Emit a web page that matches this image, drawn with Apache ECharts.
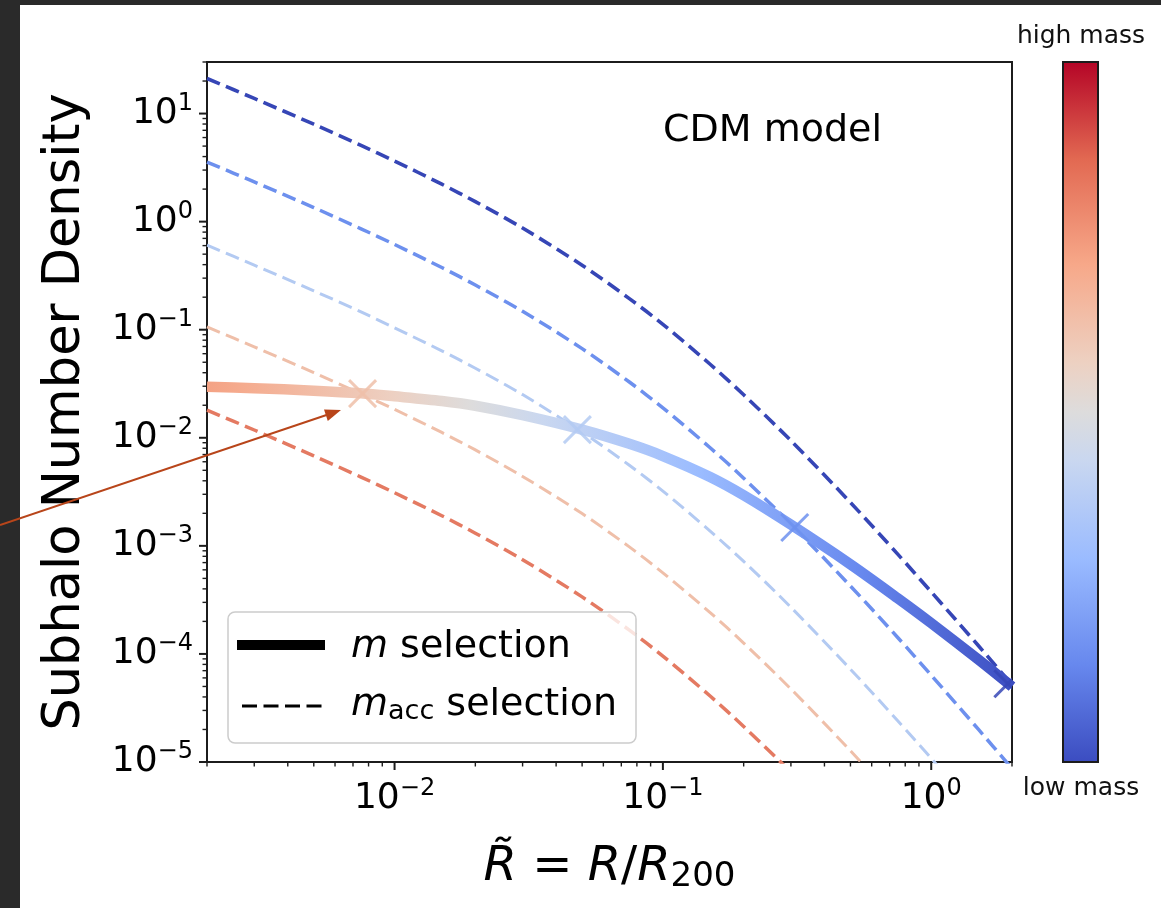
<!DOCTYPE html>
<html>
<head>
<meta charset="utf-8">
<script src="https://cdn.jsdelivr.net/npm/echarts@6/dist/echarts.min.js"></script>
<style>
html, body { margin: 0; padding: 0; background: #ffffff; }
#chart { width: 1161px; height: 908px; }
</style>
</head>
<body>
<div id="chart"></div>
<script>
// Radial sample points R/R200
const radius = [0.002, 0.003, 0.005, 0.0075, 0.01, 0.015, 0.02, 0.03, 0.05, 0.075,
                0.1, 0.15, 0.2, 0.3, 0.5, 0.75, 1, 1.5, 2];

// Subhalo number density, selection on present-day mass m
const mSelection = [0.0296, 0.0288, 0.0273, 0.0258, 0.0242, 0.0219, 0.0198, 0.0162, 0.0119, 0.00879,
                    0.00678, 0.00434, 0.00294, 0.00157, 6.75e-4, 3.28e-4, 1.93e-4, 8.85e-5, 4.98e-5];

// Subhalo number density, selection on accretion mass m_acc (lowest to highest mass bin)
const maccBin1 = [21.1, 13.8, 7.97, 5.07, 3.64, 2.22, 1.53, 0.873, 0.395, 0.194,
                  0.112, 0.0479, 0.025, 0.00941, 0.00252, 8.38e-4, 3.75e-4, 1.19e-4, 5.16e-5];
const maccBin2 = [3.56, 2.33, 1.35, 0.858, 0.615, 0.376, 0.259, 0.148, 0.0668, 0.0328,
                  0.0189, 0.00809, 0.00423, 0.00159, 4.25e-4, 1.42e-4, 6.35e-5, 2.0e-5, 8.7e-6];
const maccBin3 = [0.605, 0.396, 0.229, 0.146, 0.104, 0.0638, 0.044, 0.0251, 0.0113, 0.00557,
                  0.00321, 0.00137, 7.18e-4, 2.70e-4, 7.22e-5, 2.41e-5, 1.08e-5, 3.4e-6, 1.48e-6];
const maccBin4 = [0.106, 0.0694, 0.0401, 0.0255, 0.0183, 0.0112, 0.00772, 0.00439, 0.00199, 9.78e-4,
                  5.63e-4, 2.41e-4, 1.26e-4, 4.74e-5, 1.27e-5, 4.22e-6];
const maccBin5 = [0.018, 0.0118, 0.0068, 0.00433, 0.0031, 0.0019, 0.00131, 7.44e-4, 3.37e-4, 1.66e-4,
                  9.54e-5, 4.08e-5, 2.13e-5, 8.03e-6, 2.15e-6];

// Where the m-selected profile crosses each m_acc profile: [R, density, m_acc bin index]
const crossings = [[0.0076, 0.0256, 3], [0.048, 0.0119, 2], [0.31, 0.00148, 1], [1.93, 5.3e-5, 0]];

// Axis ranges and labelled decades
const xRange = [0.002, 2];
const yRange = [1e-5, 30];
const xDecades = [0.01, 0.1, 1];
const yDecades = [1e-5, 1e-4, 1e-3, 1e-2, 1e-1, 1, 10];

// coolwarm-style colours for the m_acc bins (low mass -> higher mass)
const binColors = ['#3646b6', '#6d90ee', '#b3caf2', '#efbfa9', '#e47a62'];
const binWidths = [3.6, 3.5, 3, 3, 3.5];

const FONT = 'DejaVu Sans';
const pairs = vals => vals.map((v, i) => [radius[i], v]);

function decadeLabel(v) {
  const lg = Math.log10(v);
  const e = Math.round(lg);
  if (Math.abs(lg - e) > 1e-6) return '';
  return '{b|10}{s|' + (e < 0 ? '\u2212' : '') + Math.abs(e) + '}';
}
const tickRich = {
  b: { fontFamily: FONT, fontSize: 36, color: '#000' },
  s: { fontFamily: FONT, fontSize: 24, color: '#000', padding: [0, 0, 20, 0] }
};

// Log tick positions (1..9 x 10^k) for drawing major and minor tick marks
function logTicks(lo, hi) {
  const out = [];
  for (let k = Math.floor(Math.log10(lo)); k <= Math.ceil(Math.log10(hi)); k++) {
    for (let m = 1; m <= 9; m++) {
      const v = parseFloat((m * Math.pow(10, k)).toPrecision(6));
      if (v >= lo * 0.9999 && v <= hi * 1.0001) out.push([v, m === 1 ? 1 : 0]);
    }
  }
  return out;
}
const xTicks = logTicks(xRange[0], xRange[1]);
const yTicks = logTicks(yRange[0], yRange[1]);

const maccSeries = [maccBin1, maccBin2, maccBin3, maccBin4, maccBin5].map((vals, i) => ({
  type: 'line',
  name: 'macc' + (i + 1),
  data: pairs(vals),
  showSymbol: false,
  symbol: 'none',
  smooth: 0.3,
  clip: true,
  z: 2,
  lineStyle: { color: binColors[i], width: binWidths[i], type: [14, 6.5] }
}));

const solidGradient = new echarts.graphic.LinearGradient(0, 0, 1, 0, [
  { offset: 0.0, color: '#f4a183' },
  { offset: 0.05, color: '#f5ab8e' },
  { offset: 0.235, color: '#edd0c2' },
  { offset: 0.33, color: '#dddcdc' },
  { offset: 0.42, color: '#c9d7f0' },
  { offset: 0.61, color: '#9bbcff' },
  { offset: 0.81, color: '#6788ee' },
  { offset: 1.0, color: '#3b4cc0' }
]);

const option = {
  animation: false,
  backgroundColor: '#ffffff',
  title: {
    text: 'CDM model',
    left: 663, top: 112, padding: 0,
    textStyle: { fontFamily: FONT, fontSize: 38, fontWeight: 'normal', color: '#000' }
  },
  grid: {
    left: 207, top: 62, width: 805, height: 700,
    show: true, borderColor: '#1c1c1c', borderWidth: 2, backgroundColor: '#ffffff',
    containLabel: false
  },
  xAxis: {
    type: 'log', logBase: 10, min: xRange[0], max: xRange[1],
    axisLine: { show: false }, axisTick: { show: false }, splitLine: { show: false },
    axisLabel: {
      margin: 15, formatter: decadeLabel, rich: tickRich,
      customValues: xDecades
    },
    name: '{i|R\u0303} = {i|R}/{i|R}{sub|200}',
    nameLocation: 'middle', nameGap: 80,
    nameTextStyle: {
      fontFamily: FONT, fontSize: 48, color: '#000',
      rich: {
        i: { fontFamily: FONT, fontSize: 48, fontStyle: 'italic', color: '#000' },
        sub: { fontFamily: FONT, fontSize: 34, color: '#000', padding: [18, 0, 0, 0] }
      }
    }
  },
  yAxis: {
    type: 'log', logBase: 10, min: yRange[0], max: yRange[1],
    axisLine: { show: false }, axisTick: { show: false }, splitLine: { show: false },
    axisLabel: {
      margin: 14, formatter: decadeLabel, rich: tickRich,
      customValues: yDecades
    },
    name: 'Subhalo Number Density',
    nameLocation: 'middle', nameGap: 116,
    nameTextStyle: { fontFamily: FONT, fontSize: 51, color: '#000' }
  },
  series: [
    ...maccSeries,
    {
      type: 'line', name: 'm selection',
      data: pairs(mSelection),
      showSymbol: false, symbol: 'none', smooth: 0.3, clip: true, z: 3,
      lineStyle: { color: solidGradient, width: 10.5, cap: 'butt' }
    },
    {
      type: 'custom', name: 'crossings', coordinateSystem: 'cartesian2d', clip: true, z: 4,
      data: crossings, encode: { x: 0, y: 1 },
      renderItem(params, api) {
        const p = api.coord([api.value(0), api.value(1)]);
        const r = 13.5;
        const col = binColors[api.value(2)];
        const st = { stroke: col, lineWidth: 3, opacity: 0.85 };
        return {
          type: 'group', children: [
            { type: 'line', shape: { x1: p[0] - r, y1: p[1] - r, x2: p[0] + r, y2: p[1] + r }, style: st },
            { type: 'line', shape: { x1: p[0] - r, y1: p[1] + r, x2: p[0] + r, y2: p[1] - r }, style: st }
          ]
        };
      }
    },
    {
      type: 'custom', name: 'xticks', coordinateSystem: 'cartesian2d', clip: false, z: 5, silent: true,
      data: xTicks.map(t => [t[0], yRange[0], t[1]]), encode: { x: 0, y: 1 },
      renderItem(params, api) {
        const p = api.coord([api.value(0), yRange[0]]);
        const major = api.value(2) === 1;
        return { type: 'line', shape: { x1: p[0], y1: p[1], x2: p[0], y2: p[1] + (major ? 8 : 4.5) },
                 style: { stroke: '#1c1c1c', lineWidth: major ? 2 : 1.4 } };
      }
    },
    {
      type: 'custom', name: 'yticks', coordinateSystem: 'cartesian2d', clip: false, z: 5, silent: true,
      data: yTicks.map(t => [xRange[0], t[0], t[1]]), encode: { x: 0, y: 1 },
      renderItem(params, api) {
        const p = api.coord([xRange[0], api.value(1)]);
        const major = api.value(2) === 1;
        return { type: 'line', shape: { x1: p[0] - (major ? 8 : 4.5), y1: p[1], x2: p[0], y2: p[1] },
                 style: { stroke: '#1c1c1c', lineWidth: major ? 2 : 1.4 } };
      }
    }
  ],
  graphic: [
    // dark slide frame
    { type: 'rect', z: 50, shape: { x: 0, y: 0, width: 20, height: 908 }, style: { fill: '#2a2a2a' } },
    { type: 'rect', z: 50, shape: { x: 0, y: 0, width: 1161, height: 5 }, style: { fill: '#2a2a2a' } },
    // annotation arrow
    { type: 'line', z: 60, shape: { x1: 0, y1: 525, x2: 328, y2: 414.5 }, style: { stroke: '#b8451a', lineWidth: 2 } },
    { type: 'polygon', z: 60, shape: { points: [[341, 410], [327.8, 421], [324, 409.5]] }, style: { fill: '#b8451a' } },
    // legend
    { type: 'rect', z: 100, shape: { x: 228, y: 612, width: 408, height: 131, r: 7 },
      style: { fill: 'rgba(255,255,255,0.8)', stroke: '#cccccc', lineWidth: 1.5 } },
    { type: 'line', z: 101, shape: { x1: 237, y1: 645, x2: 325, y2: 645 },
      style: { stroke: '#000', lineWidth: 10 } },
    { type: 'line', z: 101, shape: { x1: 242, y1: 706, x2: 322, y2: 706 },
      style: { stroke: '#000', lineWidth: 3.2, lineDash: [15, 6.5] } },
    { type: 'text', z: 101, x: 351, y: 647,
      style: { text: '{i|m} selection', fontFamily: FONT, fontSize: 38, fill: '#000', verticalAlign: 'middle',
               rich: { i: { fontFamily: FONT, fontSize: 38, fontStyle: 'italic', fill: '#000' } } } },
    { type: 'text', z: 101, x: 351, y: 705,
      style: { text: '{i|m}{sub|acc} selection', fontFamily: FONT, fontSize: 38, fill: '#000', verticalAlign: 'middle',
               rich: { i: { fontFamily: FONT, fontSize: 38, fontStyle: 'italic', fill: '#000' },
                       sub: { fontFamily: FONT, fontSize: 27, fill: '#000', padding: [14, 0, 0, 0] } } } },
    // colour bar
    { type: 'rect', z: 20, shape: { x: 1063, y: 62, width: 35, height: 700 },
      style: {
        fill: new echarts.graphic.LinearGradient(0, 0, 0, 1, [
          { offset: 0.0, color: '#b40426' },
          { offset: 0.14, color: '#e26952' },
          { offset: 0.29, color: '#f7a889' },
          { offset: 0.43, color: '#edd1c2' },
          { offset: 0.5, color: '#dddcdc' },
          { offset: 0.57, color: '#c9d7f0' },
          { offset: 0.71, color: '#9abbff' },
          { offset: 0.86, color: '#6788ee' },
          { offset: 1.0, color: '#3b4cc0' }
        ]),
        stroke: '#1c1c1c', lineWidth: 2
      } },
    { type: 'text', z: 20, x: 1081, y: 36,
      style: { text: 'high mass', fontFamily: FONT, fontSize: 25, fill: '#111', align: 'center', verticalAlign: 'middle' } },
    { type: 'text', z: 20, x: 1081, y: 788,
      style: { text: 'low mass', fontFamily: FONT, fontSize: 25, fill: '#111', align: 'center', verticalAlign: 'middle' } }
  ]
};

const chart = echarts.init(document.getElementById('chart'));
chart.setOption(option);
</script>
</body>
</html>
